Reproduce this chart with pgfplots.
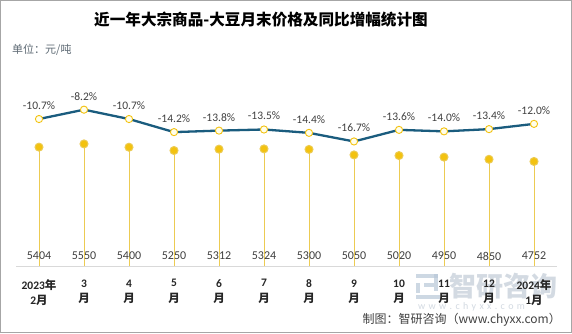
\documentclass[border=0pt]{standalone}
\usepackage{pgfplots}
\usepackage{pgfplotstable}
\pgfplotsset{compat=1.18}
\usepackage{fontspec}
\setmainfont{Carlito}
\newfontfamily\cjk{Noto Sans CJK SC}
\definecolor{linec}{HTML}{1A5C7E}
\definecolor{dotc}{HTML}{F3C20F}
\definecolor{stemc}{HTML}{ECCB52}
\definecolor{txt}{HTML}{404040}
\definecolor{gridc}{HTML}{F0F0F0}
\definecolor{axc}{HTML}{D9D9D9}
\definecolor{unitc}{HTML}{5F6B75}
\definecolor{wm}{HTML}{D3DAE2}
\definecolor{wmlogo}{HTML}{B9C8D8}

\pgfplotstableread{
x price pct plab
0 5404 -10.7 -10.7\%
1 5550 -8.2 -8.2\%
2 5400 -10.7 -10.7\%
3 5250 -14.2 -14.2\%
4 5312 -13.8 -13.8\%
5 5324 -13.5 -13.5\%
6 5300 -14.4 -14.4\%
7 5050 -16.7 -16.7\%
8 5020 -13.6 -13.6\%
9 4950 -14.0 -14.0\%
10 4850 -13.4 -13.4\%
11 4752 -12.0 -12.0\%
}\datatable

\begin{document}
\begin{tikzpicture}
\fill[white] (0pt,0pt) rectangle (572pt,333pt);
\draw[gray!70, line width=1pt] (0.5pt,0.5pt) rectangle (571.5pt,332.5pt);
% title and unit
\node[font=\cjk\bfseries\fontsize{15.6}{18}\selectfont, text=black] at (261pt,313pt) {近一年大宗商品-大豆月末价格及同比增幅统计图};
\node[font=\cjk\fontsize{11}{13}\selectfont, text=unitc, anchor=west, inner sep=0pt] at (12pt,283pt) {单位：元/吨};
% watermark
\fill[wmlogo, opacity=0.7] (416pt,55pt) rectangle (438pt,59pt);
\fill[wmlogo, opacity=0.7] (434pt,42pt) rectangle (438pt,59pt);
\fill[wmlogo, opacity=0.7] (416pt,40pt) rectangle (420pt,50pt);
\fill[wmlogo, opacity=0.7] (416pt,34pt) rectangle (440pt,38pt);
\fill[wmlogo, opacity=0.7] (424pt,46pt) rectangle (434pt,50pt);
\node[font=\cjk\bfseries\fontsize{27}{30}\selectfont, text=wm, anchor=west, inner sep=0pt] at (449pt,47pt) {智研咨询};
\node[font=\fontsize{10}{12}\selectfont, text=wm, anchor=west, inner sep=0pt] at (418pt,26pt) {w\,\,w\,\,w\,\,.\,\,c\,\,h\,\,y\,\,x\,\,x\,\,.\,\,c\,\,o\,\,m};
% footer
\node[font=\cjk\fontsize{12}{14}\selectfont, text=txt, anchor=east, inner sep=0pt] at (561pt,13pt) {制图：智研咨询（www.chyxx.com）};

\begin{axis}[
  at={(16.5pt,67pt)}, anchor=south west,
  scale only axis, width=540pt, height=187pt,
  xmin=-0.5, xmax=11.5, ymin=0, ymax=8500,
  axis x line*=bottom, axis y line=none,
  x axis line style={draw=axc, line width=1pt, -},
  xtick=data, xtick style={draw=none},
  xticklabels={{2023{\cjk 年}\\2{\cjk 月}},{3\\{\cjk 月}},{4\\{\cjk 月}},{5\\{\cjk 月}},{6\\{\cjk 月}},{7\\{\cjk 月}},{8\\{\cjk 月}},{9\\{\cjk 月}},{10\\{\cjk 月}},{11\\{\cjk 月}},{12\\{\cjk 月}},{2024{\cjk 年}\\1{\cjk 月}}},
  xticklabel style={align=center, font=\bfseries\fontsize{11.5}{15.5}\selectfont, text=black!85, yshift=-10pt},
  ytick={1000,2000,3000,4000,5000,6000}, ymajorgrids,
  grid style={draw=gridc, line width=0.8pt},
  clip=false,
]
\addplot[ycomb, draw=stemc, line width=1pt, mark=*, mark size=4pt, mark options={fill=dotc, draw=none}] table[x=x, y=price] {\datatable};
\addplot[draw=none, mark=none, nodes near coords, point meta=explicit symbolic,
  every node near coord/.style={anchor=center, inner sep=0pt, font=\fontsize{12}{14}\selectfont, text=txt}]
  table[x=x, y expr=450, meta=price] {\datatable};
\end{axis}

\begin{axis}[
  at={(16.5pt,67pt)}, anchor=south west,
  scale only axis, width=540pt, height=187pt,
  xmin=-0.5, xmax=11.5, ymin=-50, ymax=0,
  hide axis, clip=false,
]
\addplot[draw=linec, line width=2.3pt, mark=*, mark size=3.6pt,
  mark options={fill=yellow!8, draw=dotc, line width=0.9pt},
  nodes near coords, point meta=explicit symbolic,
  every node near coord/.style={anchor=south, inner sep=0pt, yshift=9pt, font=\fontsize{11.5}{13}\selectfont, text=txt}]
  table[x=x, y=pct, meta=plab] {\datatable};
\end{axis}
\pgfresetboundingbox
\path[use as bounding box] (0pt,0pt) rectangle (572pt,333pt);
\end{tikzpicture}
\end{document}
